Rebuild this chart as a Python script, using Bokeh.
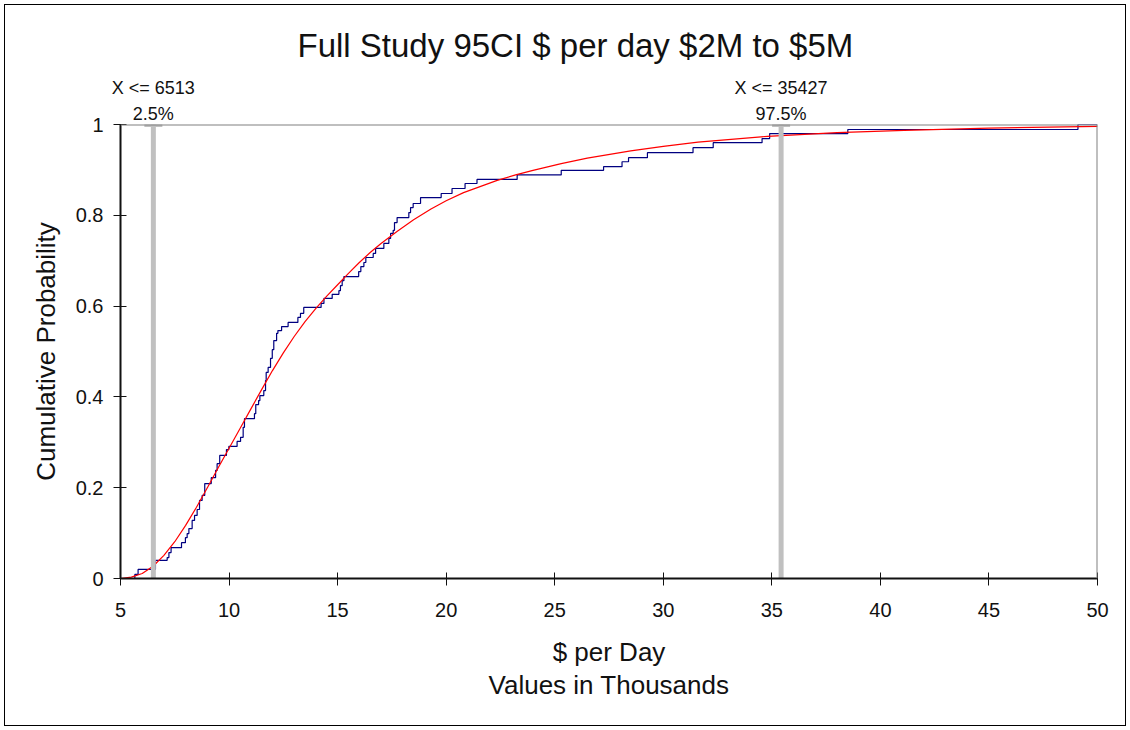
from bokeh.plotting import figure
from bokeh.models import Range1d, FixedTicker, LinearAxis, Span
from bokeh.embed import file_html
from bokeh.resources import INLINE

# empirical cumulative distribution (values in thousands of $ per day)
step_x = [5.4, 5.66, 5.81, 6.61, 7.15, 7.23, 7.33, 7.81, 7.99, 8.07, 8.15, 8.30, 8.41, 8.53, 8.64,
          8.76, 8.88, 9.18, 9.38, 9.45, 9.57, 9.88, 9.99, 10.37, 10.53, 10.65, 10.71, 11.17, 11.23,
          11.36, 11.42, 11.60, 11.68, 11.71, 11.80, 11.91, 11.99, 12.06, 12.19, 12.25, 12.42, 12.72,
          13.17, 13.29, 13.44, 14.24, 14.37, 14.75, 15.06, 15.13, 15.21, 15.29, 15.97, 16.07, 16.21,
          16.30, 16.64, 16.75, 17.13, 17.36, 17.44, 17.56, 17.62, 17.74, 18.28, 18.36, 18.48, 18.82,
          19.77, 20.27, 20.87, 21.42, 23.27, 25.3, 27.25, 28.1, 28.4, 29.27, 31.37, 32.3, 34.55,
          34.9, 38.5, 49.1, 50.0]
step_y = [0.0, 0.009, 0.02, 0.04, 0.046, 0.057, 0.068, 0.079, 0.09, 0.099, 0.11, 0.128, 0.139,
          0.152, 0.172, 0.183, 0.209, 0.222, 0.238, 0.253, 0.271, 0.284, 0.291, 0.302, 0.311, 0.333,
          0.352, 0.363, 0.383, 0.392, 0.403, 0.414, 0.436, 0.454, 0.465, 0.485, 0.504, 0.524, 0.54,
          0.546, 0.555, 0.564, 0.575, 0.584, 0.597, 0.606, 0.617, 0.626, 0.634, 0.645, 0.656, 0.665,
          0.676, 0.687, 0.696, 0.707, 0.716, 0.727, 0.738, 0.749, 0.76, 0.767, 0.784, 0.795, 0.806,
          0.817, 0.826, 0.839, 0.848, 0.859, 0.87, 0.879, 0.889, 0.899, 0.907, 0.918, 0.927, 0.938,
          0.949, 0.96, 0.969, 0.98, 0.989, 1.0, 1.0]

# fitted distribution curve
fit_x = [5.0, 5.5, 6.0, 6.5, 7.0, 7.5, 8.0, 8.5, 9.0, 9.5, 10.0, 10.5, 11.0, 11.5, 12.0, 12.5,
         13.0, 13.5, 14.0, 14.5, 15.0, 15.5, 16.0, 16.5, 17.0, 17.75, 18.5, 19.3, 20.0, 20.8,
         22.35, 23.2, 24.0, 25.3, 26.5, 28.5, 30.0, 31.6, 34.8, 38.0, 41.1, 45.0, 50.0]
fit_y = [0.0, 0.003, 0.011, 0.027, 0.051, 0.081, 0.117, 0.157, 0.2, 0.244, 0.287, 0.33, 0.373,
         0.416, 0.458, 0.497, 0.533, 0.566, 0.595, 0.622, 0.647, 0.672, 0.696, 0.718, 0.738,
         0.765, 0.79, 0.814, 0.832, 0.85, 0.877, 0.889, 0.899, 0.914, 0.926, 0.942, 0.952, 0.961,
         0.974, 0.982, 0.987, 0.992, 0.996]

# 95% confidence markers
ci_x = [6.513, 35.427]
ci_value = ["X <= 6513", "X <= 35427"]
ci_pct = ["2.5%", "97.5%"]

x_ticks = [5, 10, 15, 20, 25, 30, 35, 40, 45, 50]
y_ticks = [0, 0.2, 0.4, 0.6, 0.8, 1]

FONT = "Liberation Sans"
INK = "#111111"

p = figure(width=1120, height=720, output_backend="svg", toolbar_location=None,
           x_range=Range1d(5, 50), y_range=Range1d(0, 1),
           title="Full Study 95CI $ per day $2M to $5M",
           min_border_left=115, min_border_right=28, min_border_top=119, min_border_bottom=147)
# thin black border round the whole chart
p.styles = {"margin": "5px", "outline": "1px solid #000"}
p.outline_line_color = None
p.xgrid.visible = False
p.ygrid.visible = False
p.background_fill_color = "white"
p.border_fill_color = "white"

p.title.align = "left"
p.title.offset = 177
p.title.standoff = 22
p.title.text_font = FONT
p.title.text_font_size = "33px"
p.title.text_font_style = "normal"
p.title.text_color = INK

for ax in (p.xaxis[0], p.yaxis[0]):
    ax.axis_line_color = INK
    ax.axis_line_width = 2
    ax.major_tick_line_color = INK
    ax.major_tick_in = 6
    ax.major_tick_out = 7
    ax.minor_tick_line_color = None
    ax.major_label_text_font = FONT
    ax.major_label_text_font_size = "20px"
    ax.major_label_text_color = INK
    ax.axis_label_text_font = FONT
    ax.axis_label_text_font_size = "26px"
    ax.axis_label_text_font_style = "normal"
    ax.axis_label_text_color = INK
p.xaxis.ticker = FixedTicker(ticks=x_ticks)
p.yaxis.ticker = FixedTicker(ticks=y_ticks)
p.yaxis.major_label_overrides = {0: "0", 1: "1"}
p.xaxis.major_label_standoff = 17
p.yaxis.major_label_standoff = 10
p.yaxis.axis_label = "Cumulative Probability"
p.yaxis.axis_label_standoff = 12
p.xaxis.axis_label = "$ per Day\nValues in Thousands"
p.xaxis.axis_label_text_line_height = 1.1
p.xaxis.axis_label_standoff = 17

# percentile captions above the frame
top_ax = LinearAxis(ticker=FixedTicker(ticks=ci_x, minor_ticks=[]),
                    major_label_overrides={x: f"{v}\n{pc}" for x, v, pc in zip(ci_x, ci_value, ci_pct)},
                    axis_line_color=None, major_tick_line_color=None, minor_tick_line_color=None,
                    major_tick_in=0, major_tick_out=0, major_label_standoff=1,
                    major_label_text_font=FONT, major_label_text_font_size="18px",
                    major_label_text_line_height=1.28, major_label_text_color=INK)
p.add_layout(top_ax, "above")

# top and right edges of the frame
p.add_layout(Span(location=1, dimension="width", line_color="#808080", line_width=2))
p.add_layout(Span(location=50, dimension="height", line_color="#808080", line_width=2))

p.step(step_x, step_y, mode="after", line_color="#000080", line_width=1.2)
p.line(fit_x, fit_y, line_color="#ff0000", line_width=1.2)

p.segment(x0=ci_x, y0=[0, 0], x1=ci_x, y1=[1, 1], line_color="#c0c0c0", line_width=5)
p.rect(x=ci_x, y=[1, 1], width=18, height=5, width_units="screen", height_units="screen",
       fill_color="#c0c0c0", line_color=None)

open("out.html", "w").write(file_html(p, INLINE))
